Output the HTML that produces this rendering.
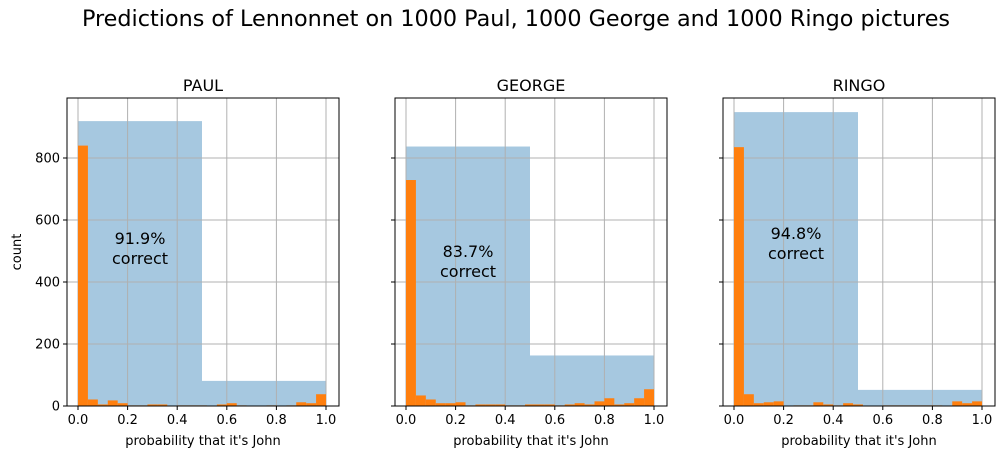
<!DOCTYPE html>
<html><head><meta charset="utf-8"><style>
body{margin:0;background:#fff;}
svg text{font-family:"DejaVu Sans","Liberation Sans",sans-serif;}
</style></head><body>
<svg id="fig" width="1005" height="459" viewBox="0 0 1005 459" xmlns="http://www.w3.org/2000/svg">
<text x="516" y="26" font-size="22.3" text-anchor="middle" fill="#000">Predictions of Lennonnet on 1000 Paul, 1000 George and 1000 Ringo pictures</text>
</svg>
<script>
const panelNames = ["PAUL", "GEORGE", "RINGO"];
const accuracyLabels = ["91.9%", "83.7%", "94.8%"];
const accuracyY = [510, 468, 526];
const coarseLow = [919, 837, 948];
const coarseHigh = [81, 163, 52];
const finePaul = [840,21,5,18,9,2,2,5,5,0,2,2,2,0,5,9,2,0,0,2,0,2,12,9,38];
const fineGeorge = [729,34,21,9,9,12,2,5,5,5,2,2,5,5,5,2,5,9,5,15,25,5,9,25,54];
const fineRingo = [835,38,9,12,15,0,2,2,12,5,2,9,5,0,0,2,2,2,2,2,2,0,15,9,15];
const yTicks = [0,200,400,600,800];
const xTicks = [0,0.2,0.4,0.6,0.8,1.0];

(function(){
const NS = "http://www.w3.org/2000/svg";
const svg = document.getElementById("fig");
const fine = [finePaul, fineGeorge, fineRingo];
const lefts = [67, 395, 723];
const W = 272, axTop = 98, axBottom = 406;
function mk(tag, attrs, parent){const e=document.createElementNS(NS,tag);for(const k in attrs)e.setAttribute(k,attrs[k]);(parent||svg).appendChild(e);return e;}
function yScale(v){return axBottom - v*0.31;}

for(let p=0;p<3;p++){
  const L = lefts[p];
  const xScale = v => L + 11 + v*248;
  const g = mk("g",{});
  
  
  const cv=[coarseLow[p],coarseHigh[p]];
  for(let i=0;i<2;i++){
    const r=mk("rect",{x:xScale(i*0.5),y:yScale(cv[i]),width:xScale(0.5)-xScale(0),height:axBottom-yScale(cv[i]),fill:"#a6c8e0"},g);
    
    
  }
  xTicks.forEach(t=>{mk("line",{x1:xScale(t),x2:xScale(t),y1:axTop,y2:axBottom,stroke:"#b0b0b0","stroke-width":1},g);});
  yTicks.forEach(t=>{mk("line",{x1:L,x2:L+W,y1:yScale(t),y2:yScale(t),stroke:"#b0b0b0","stroke-width":1},g);});
  const f=fine[p], bw=1/f.length;
  f.forEach((v,i)=>{
    if(v<=0) return;
    const r=mk("rect",{x:xScale(i*bw),y:yScale(v),width:xScale(bw)-xScale(0),height:axBottom-yScale(v),fill:"#ff7f0e"},g);
    
    
  });
  mk("rect",{x:L,y:axTop,width:W,height:axBottom-axTop,fill:"none",stroke:"#000","stroke-width":1},g);
  xTicks.forEach(t=>{
    mk("line",{x1:xScale(t),x2:xScale(t),y1:axBottom,y2:axBottom+4,stroke:"#000"},g);
    const tx=mk("text",{x:xScale(t),y:axBottom+18,"font-size":13,"text-anchor":"middle"},g);
    tx.textContent=t.toFixed(1);
    
    
  });
  yTicks.forEach(t=>{
    mk("line",{x1:L-4,x2:L,y1:yScale(t),y2:yScale(t),stroke:"#000"},g);
    if(p===0){
      const tx=mk("text",{x:L-7,y:yScale(t)+4.5,"font-size":13,"text-anchor":"end"},g);
      tx.textContent=t;
      
      
    }
  });
  const ttl=mk("text",{x:L+W/2,y:91,"font-size":16,"text-anchor":"middle"},g);
  ttl.textContent=panelNames[p];
  
  
  const xl=mk("text",{x:L+W/2,y:445,"font-size":13,"text-anchor":"middle"},g);
  xl.textContent="probability that it's John";
  
  
  const ay=yScale(accuracyY[p]);
  const a1=mk("text",{x:xScale(0.25),y:ay-4,"font-size":16,"text-anchor":"middle"},g);
  a1.textContent=accuracyLabels[p];
  
  
  const a2=mk("text",{x:xScale(0.25),y:ay+16,"font-size":16,"text-anchor":"middle"},g);
  a2.textContent="correct";
  
  
}
const yl=mk("text",{x:0,y:0,"font-size":13,"text-anchor":"middle",transform:"translate(21,252) rotate(-90)"});
yl.textContent="count";


})();
</script>
</body></html>
